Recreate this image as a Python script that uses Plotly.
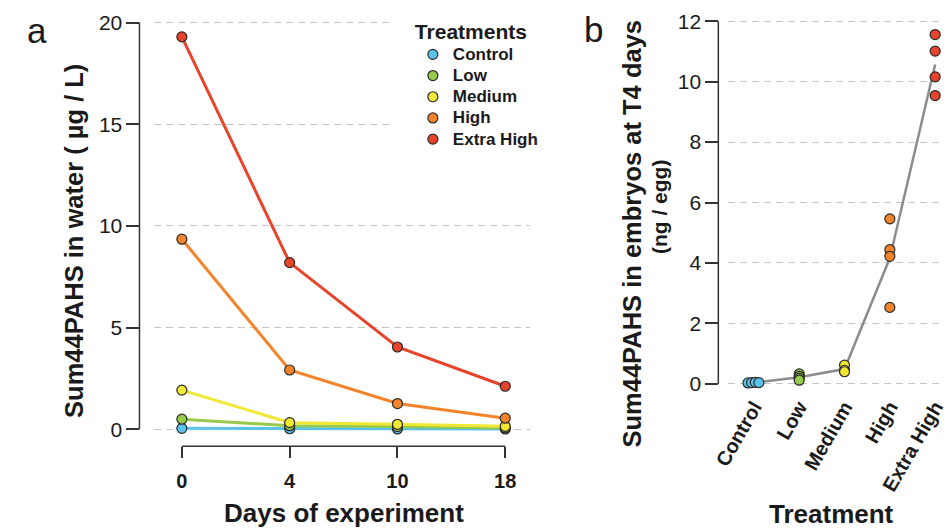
import plotly.graph_objects as go

# ---------------- data ----------------
days = ["0", "4", "10", "18"]
treatments = ["Control", "Low", "Medium", "High", "Extra High"]

water_control = [0.05, 0.03, 0.02, 0.02]
water_low = [0.50, 0.18, 0.14, 0.07]
water_medium = [1.93, 0.33, 0.25, 0.15]
water_high = [9.35, 2.92, 1.27, 0.55]
water_extra = [19.3, 8.2, 4.05, 2.12]

embryo_control = [0.03, 0.04, 0.05, 0.04]
embryo_low = [0.33, 0.25, 0.18, 0.12]
embryo_medium = [0.62, 0.45, 0.40]
embryo_high = [5.46, 4.44, 4.22, 2.53]
embryo_extra = [11.56, 11.01, 10.16, 9.54]

water_yticks = [0, 5, 10, 15, 20]
embryo_yticks = [0, 2, 4, 6, 8, 10, 12]

# ---------------- style ----------------
W, H = 947, 528
FONT = "Liberation Sans, Arial, Helvetica, sans-serif"
colors = ["#5BC3EA", "#97C94B", "#F0E833", "#F4842B", "#E8442B"]
EDGE = "#2a2a2a"
AX = "#333333"
GRID = "#C6C6C6"
control_jitter = [-0.13, -0.05, 0.03, 0.11]


def px(p):
    return p / W


def py(p):
    return 1 - p / H


water = [water_control, water_low, water_medium, water_high, water_extra]
embryo = [embryo_control, embryo_low, embryo_medium, embryo_high, embryo_extra]

fig = go.Figure()

# panel a: lines (no legend) then markers (legend)
xa = list(range(len(days)))
for name, vals, c in zip(treatments, water, colors):
    fig.add_trace(go.Scatter(
        x=xa, y=vals, mode="lines", showlegend=False,
        line=dict(color=c, width=3), hoverinfo="skip",
        xaxis="x", yaxis="y",
    ))
    fig.add_trace(go.Scatter(
        x=xa, y=vals, mode="markers",
        name="<span style='font-size:17px'>%s</span>" % name,
        marker=dict(size=10, color=c, line=dict(color=EDGE, width=1.2)),
        xaxis="x", yaxis="y", cliponaxis=False,
    ))

# panel b: mean line then points
means = [sum(v) / len(v) for v in embryo]
fig.add_trace(go.Scatter(
    x=list(range(len(treatments))), y=means, mode="lines",
    line=dict(color="#8C8C8C", width=2.5), showlegend=False,
    xaxis="x2", yaxis="y2", hoverinfo="skip",
))
for i, (vals, c) in enumerate(zip(embryo, colors)):
    if i == 0:
        xs = [i + j for j in control_jitter]
    else:
        xs = [i] * len(vals)
    fig.add_trace(go.Scatter(
        x=xs, y=vals, mode="markers", showlegend=False,
        marker=dict(size=10, color=c, line=dict(color=EDGE, width=1.2)),
        xaxis="x2", yaxis="y2", cliponaxis=False,
    ))

tick_common = dict(ticks="outside", tickcolor=AX, tickwidth=1.5,
                   showline=False, zeroline=False)

fig.update_layout(
    width=W, height=H,
    margin=dict(l=0, r=0, t=0, b=0),
    paper_bgcolor="white", plot_bgcolor="white",
    font=dict(family=FONT, color="#1a1a1a"),
    xaxis=dict(
        domain=[px(141), px(525)], range=[-0.257, 3.234],
        tickmode="array", tickvals=xa, ticktext=days,
        anchor="free", position=py(446), ticklen=11,
        ticklabelstandoff=6,
        showgrid=False,
        tickfont=dict(size=20, family=FONT, weight="bold", color="#1a1a1a"),
        **tick_common,
    ),
    yaxis=dict(
        domain=[py(440), py(10)], range=[-0.539, 20.524],
        tickmode="array", tickvals=water_yticks,
        anchor="free", position=px(126), ticklen=13,
        showgrid=True, gridcolor=GRID, gridwidth=1.2, griddash="7px,5px",
        tickfont=dict(size=21, family=FONT, color="#1a1a1a"),
        **tick_common,
    ),
    xaxis2=dict(
        domain=[px(727), 1.0], range=[-0.562, 4.195],
        tickmode="array", tickvals=list(range(len(treatments))),
        ticktext=treatments, tickangle=-60, ticklabeloverflow="allow",
        anchor="free", position=py(390),
        showgrid=False, showline=False, zeroline=False, ticks="",
        tickfont=dict(size=20, family=FONT, weight="bold", color="#1a1a1a"),
    ),
    yaxis2=dict(
        domain=[py(395), py(10)], range=[-0.386, 12.307],
        tickmode="array", tickvals=embryo_yticks,
        anchor="free", position=px(716.7), ticklen=13,
        showgrid=True, gridcolor=GRID, gridwidth=1.2, griddash="7px,5px",
        tickfont=dict(size=21, family=FONT, color="#1a1a1a"),
        **tick_common,
    ),
    legend=dict(
        x=px(405), xanchor="left", y=py(9.5), yanchor="top",
        bgcolor="rgba(255,255,255,0)", borderwidth=0,
        font=dict(size=14, family=FONT, weight="bold", color="#1a1a1a"),
        title=dict(text="Treatments",
                   font=dict(size=21, family=FONT, weight="bold", color="#1a1a1a")),
    ),
    showlegend=True,
)

shapes = [
    # white backing behind the legend (covers gridlines)
    dict(type="rect", xref="paper", yref="paper",
         x0=px(385), x1=px(527), y0=py(160), y1=py(4),
         fillcolor="white", line=dict(width=0), layer="above"),
    # R-style axis lines spanning first to last tick
    dict(type="line", xref="x", yref="paper", x0=0, x1=len(days) - 1,
         y0=py(446), y1=py(446), line=dict(color=AX, width=1.5)),
    dict(type="line", xref="paper", yref="y", x0=px(126), x1=px(126),
         y0=water_yticks[0], y1=water_yticks[-1], line=dict(color=AX, width=1.5)),
    dict(type="line", xref="paper", yref="y2", x0=px(716.7), x1=px(716.7),
         y0=embryo_yticks[0], y1=embryo_yticks[-1], line=dict(color=AX, width=1.5)),
]
fig.update_layout(shapes=shapes)

bold = dict(family=FONT, weight="bold", color="#1a1a1a")
annotations = [
    dict(text="a", x=px(21), y=py(29), font=dict(size=35, family=FONT, color="#1a1a1a")),
    dict(text="b", x=px(589), y=py(28), font=dict(size=35, family=FONT, color="#1a1a1a")),
    dict(text="Sum44PAHS in water ( µg / L)", x=px(59), y=py(240), textangle=-90,
         font=dict(size=25.5, **bold)),
    dict(text="Days of experiment", x=px(335), y=py(513), font=dict(size=26, **bold)),
    dict(text="Sum44PAHS in embryos at T4 days", x=px(629), y=py(232), textangle=-90,
         font=dict(size=25.5, **bold)),
    dict(text="(ng / egg)", x=px(656), y=py(206), textangle=-90,
         font=dict(size=21, **bold)),
    dict(text="Treatment", x=px(832), y=py(514), font=dict(size=26, **bold)),
]
for a in annotations:
    a.update(xref="paper", yref="paper", showarrow=False,
             xanchor="center", yanchor="middle")
fig.update_layout(annotations=annotations)

fig.write_html("out.html")
